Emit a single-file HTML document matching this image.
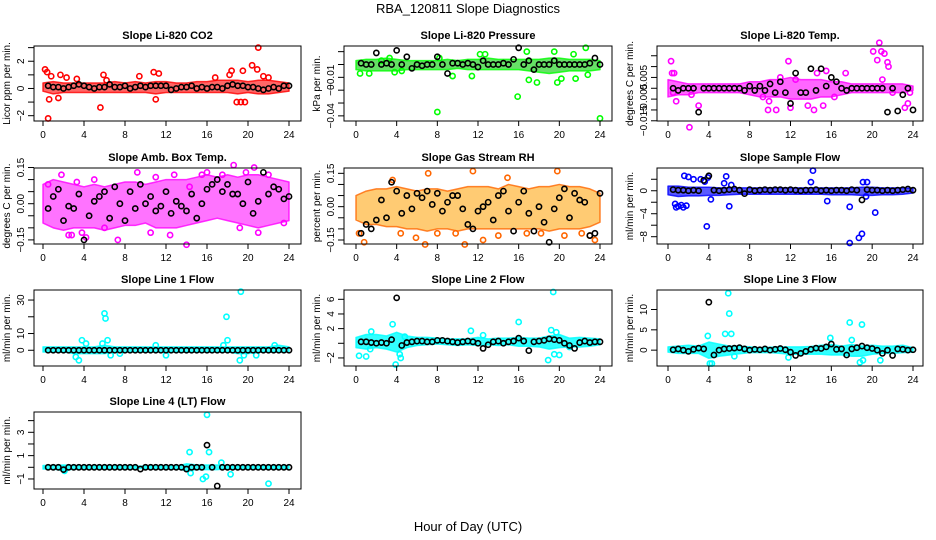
<!DOCTYPE html>
<html><head><meta charset="utf-8"><style>
html,body{margin:0;padding:0;background:#fff}
svg{display:block;font-family:"Liberation Sans",sans-serif}
</style></head><body>
<svg id="chart" width="936" height="540" viewBox="0 0 936 540">
<text x="468" y="13" text-anchor="middle" font-size="13">RBA_120811  Slope Diagnostics</text>
<text x="468" y="531" text-anchor="middle" font-size="13">Hour of Day (UTC)</text>
</svg>
<script>
const bandHours=[0,1,2,3,4,5,6,7,8,9,10,11,12,13,14,15,16,17,18,19,20,21,22,23,24];
const blackHours=[0.5,1,1.5,2,2.5,3,3.5,4,4.5,5,5.5,6,6.5,7,7.5,8,8.5,9,9.5,10,10.5,11,11.5,12,12.5,13,13.5,14,14.5,15,15.5,16,16.5,17,17.5,18,18.5,19,19.5,20,20.5,21,21.5,22,22.5,23,23.5,24];
const xTicks=[0,4,8,12,16,20,24];

const p1Hi=[0.4,0.5,0.4,0.4,0.4,0.4,0.4,0.5,0.4,0.5,0.4,0.5,0.5,0.4,0.4,0.5,0.5,0.6,0.6,0.6,0.5,0.6,0.6,0.5,0.4];
const p1Lo=[-0.2,-0.4,-0.3,-0.3,-0.3,-0.3,-0.3,-0.3,-0.3,-0.3,-0.3,-0.4,-0.3,-0.3,-0.3,-0.3,-0.3,-0.3,-0.3,-0.4,-0.3,-0.4,-0.4,-0.3,-0.2];
const p1OutX=[0.2,0.4,0.5,0.6,0.8,1.5,1.7,2.3,3.3,5.6,5.9,6.2,9.4,10.8,11.0,11.3,16.8,18.2,18.4,18.9,19.3,19.5,19.7,20.4,20.9,21.0,21.5,22.0];
const p1OutY=[1.4,1.2,-2.2,-0.8,0.9,-0.7,1.0,0.8,0.7,-1.4,1.0,0.6,0.9,1.2,-0.8,1.1,0.8,1.0,1.3,-1.0,-1.0,1.3,-1.0,1.7,1.4,3.0,0.9,0.8];
const p1Black=[0.2,0.1,0.1,0.0,0.1,0.2,0.3,0.2,0.1,0.0,0.1,0.1,0.3,0.1,0.1,0.2,0.0,0.1,0.2,0.1,0.2,0.2,0.2,0.2,-0.1,0.0,0.1,0.1,0.2,0.0,0.1,0.0,0.1,0.1,0.0,0.2,0.3,0.2,0.2,0.1,0.1,0.0,-0.1,0.0,0.1,0.0,0.2,0.2];

const p2Hi=[0.003,0.004,0.004,0.005,0.004,0.003,0.003,0.003,0.003,0.004,0.003,0.004,0.004,0.005,0.004,0.004,0.004,0.004,0.004,0.005,0.005,0.004,0.004,0.004,0.003];
const p2Lo=[-0.004,-0.005,-0.005,-0.005,-0.005,-0.004,-0.004,-0.004,-0.004,-0.004,-0.003,-0.004,-0.004,-0.004,-0.004,-0.004,-0.004,-0.005,-0.006,-0.007,-0.006,-0.005,-0.005,-0.005,-0.004];
const p2OutX=[0.4,1.3,2.5,3.3,3.8,4.5,8.0,8.2,9.5,11.4,12.2,12.7,15.9,16.8,17.0,17.8,19.5,19.8,20.2,21.4,21.6,22.6,22.8,24.0];
const p2OutY=[-0.007,-0.007,0.003,0.005,-0.006,-0.005,-0.037,0.005,-0.009,-0.009,0.008,0.008,-0.025,0.010,-0.012,-0.014,0.010,-0.014,-0.011,0.008,-0.011,0.013,-0.008,-0.042];
const p2Black=[0.001,0,0,0.009,0,0.001,0,0.011,0,0.006,-0.003,0,-0.001,0,0,0.006,0,-0.007,0.001,0.001,0,0.001,0,-0.002,0.003,0,0,0,0.001,0,0.004,0.013,0,0.003,-0.004,0,0,0,0.003,0,0,0,0,0,0,0.001,0.005,0];

const p3Hi=[0.004,0.003,0.002,0.002,0.002,0.002,0.002,0.002,0.003,0.003,0.004,0.004,0.005,0.004,0.004,0.004,0.003,0.003,0.002,0.002,0.002,0.002,0.002,0.002,0.001];
const p3Lo=[-0.004,-0.003,-0.003,-0.002,-0.002,-0.002,-0.002,-0.002,-0.003,-0.004,-0.004,-0.004,-0.005,-0.005,-0.005,-0.004,-0.004,-0.003,-0.002,-0.002,-0.002,-0.002,-0.002,-0.002,-0.001];
const p3OutX=[0.3,0.4,0.6,0.8,0.5,2.1,3.0,2.3,9.3,9.8,10.6,11.8,12.0,11.0,13.7,14.3,14.6,15.5,15.2,16.3,17.4,20.1,20.5,20.7,20.9,21.2,21.5,21.6,21.0,22.0,23.2,23.5,23.7,9.9,12.5];
const p3OutY=[0.0125,0.007,0.007,-0.006,-0.002,-0.018,-0.008,-0.003,-0.004,-0.010,-0.010,0.0125,-0.009,0.005,-0.008,-0.010,0.007,0.008,-0.008,-0.004,0.007,0.017,0.013,0.021,0.017,0.016,0.012,0.010,0.004,-0.002,-0.009,-0.007,-0.002,-0.006,0.004];
const p3Black=[0,-0.001,0,0,0,-0.011,0,0,0,0,0,0,0,0,-0.001,0.001,-0.001,0.001,-0.001,0.002,-0.002,0.003,-0.002,-0.007,0.007,-0.002,-0.002,0.009,-0.001,0.009,0.001,0.005,0.003,0,-0.001,0,0,0,0,0,0,0,-0.011,0,-0.0105,-0.003,0,-0.010];

const p4Hi=[0.08,0.10,0.09,0.08,0.07,0.08,0.07,0.08,0.09,0.09,0.08,0.09,0.10,0.10,0.10,0.11,0.12,0.11,0.12,0.11,0.12,0.12,0.11,0.10,0.09];
const p4Lo=[-0.08,-0.10,-0.11,-0.10,-0.10,-0.10,-0.11,-0.10,-0.09,-0.09,-0.08,-0.10,-0.10,-0.10,-0.09,-0.08,-0.07,-0.06,-0.07,-0.08,-0.09,-0.10,-0.09,-0.08,-0.07];
const p4OutX=[0.5,1.8,2.5,2.8,3.8,4.2,5.0,6.0,7.3,9.2,10.5,11.0,12.4,14.3,14.0,16.0,17.5,18.6,19.8,19.2,20.6,22.0,23.5,21.0,12.8,15.5,3.3];
const p4OutY=[0.08,0.12,-0.13,-0.13,-0.12,-0.14,0.10,-0.10,-0.15,0.13,-0.12,0.11,-0.13,0.07,-0.17,0.13,0.12,0.16,0.13,-0.10,0.15,0.12,-0.08,-0.12,0.12,0.12,0.09];
const p4Black=[-0.02,0.03,0.06,-0.07,-0.01,-0.02,0.04,-0.15,-0.05,0.01,0.03,0.05,-0.06,0.07,0.00,-0.07,0.05,-0.02,0.08,0.00,0.03,-0.03,-0.01,0.05,-0.04,0.01,-0.01,-0.03,0.04,-0.06,0.00,0.06,0.08,0.10,0.05,0.08,0.04,0.04,0.00,0.09,-0.04,0.01,0.13,0.04,0.07,0.06,0.02,0.03];

const p5Hi=[0.05,0.07,0.08,0.08,0.09,0.08,0.07,0.08,0.08,0.07,0.08,0.09,0.09,0.09,0.08,0.10,0.09,0.08,0.09,0.09,0.10,0.09,0.09,0.08,0.06];
const p5Lo=[-0.06,-0.08,-0.08,-0.09,-0.09,-0.10,-0.10,-0.11,-0.10,-0.10,-0.11,-0.10,-0.10,-0.10,-0.10,-0.10,-0.10,-0.10,-0.10,-0.11,-0.10,-0.10,-0.10,-0.09,-0.07];
const p5OutX=[0.3,0.8,3.6,6.8,7.1,8.0,11.5,10.7,12.5,14.0,14.9,19.8,20.5,23.0,23.5,5.9,4.4,18.2,22.2,9.8,16.8];
const p5OutY=[-0.12,-0.16,0.12,-0.17,0.15,-0.12,0.16,-0.17,-0.15,-0.13,0.13,0.16,-0.13,-0.13,-0.15,-0.14,-0.12,-0.12,-0.12,-0.12,-0.12];
const p5Black=[-0.12,-0.08,-0.10,-0.06,0.03,-0.05,0.11,0.07,-0.03,0.05,-0.01,0.06,0.04,0.07,0.01,0.06,-0.02,0.02,0.05,0.05,-0.01,-0.08,-0.10,-0.02,0.00,0.02,-0.06,0.05,0.07,-0.02,-0.11,0.02,0.07,-0.03,-0.11,0.00,-0.07,-0.16,-0.01,0.04,0.08,-0.05,0.06,0.03,0.02,-0.13,-0.12,0.06];

const p6Hi=[0.8,0.8,0.6,0.6,0.6,0.5,0.5,0.5,0.5,0.5,0.5,0.5,0.5,0.5,0.5,0.5,0.5,0.5,0.5,0.6,0.6,0.5,0.5,0.5,0.4];
const p6Lo=[-0.7,-1.0,-0.9,-0.9,-0.8,-0.8,-0.7,-0.6,-0.6,-0.6,-0.6,-0.6,-0.6,-0.6,-0.6,-0.6,-0.7,-0.7,-0.7,-0.8,-0.8,-0.7,-0.7,-0.6,-0.4];
const p6OutX=[0.7,0.8,1.0,1.5,1.3,1.8,1.6,2.0,2.5,3.2,3.6,3.8,3.9,4.2,5.5,5.7,6.0,6.2,14.2,14.0,15.6,17.8,17.8,18.7,19.0,19.1,19.4,20.3,19.5];
const p6OutY=[-2.3,-2.9,-2.7,-2.9,-2.5,-2.6,2.6,2.4,2.0,2.0,1.6,-6.2,2.3,-1.5,1.3,2.5,-2.7,1.0,3.5,1.5,-1.8,-2.8,-9.1,-8.2,-7.5,1.5,-1.0,-3.8,1.5];
const p6Black=[0.2,0.1,0.1,0.0,0.1,0.0,1.8,2.6,0.1,0.0,0.1,0.2,0.3,0.1,-0.5,0.2,0.0,0.1,0.2,0.1,0.2,0.2,0.1,0.2,0.1,0.0,0.1,0.1,0.2,0.0,0.1,0.0,0.1,0.1,0.0,0.2,0.1,-1.6,0.2,0.1,0.1,0.0,0.1,0.0,0.1,0.2,0.3,0.1];

const p7Hi=[2,2,2,2,2,2,3,2,2,2,2,2,2,2,2,2,2,2,2,2,2,2,2,3,2];
const p7Lo=[-1,-1,-1,-2,-2,-2,-2,-1,-1,-1,-1,-1,-1,-1,-1,-1,-1,-1,-1,-2,-2,-1,-1,-1,-1];
const p7OutX=[3.2,3.5,3.8,4.2,5.8,6.0,6.1,6.3,6.6,7.5,11.0,12.0,17.6,17.9,18.0,19.2,19.3,19.6,20.8,22.6];
const p7OutY=[-4,-6,6,4,4,22,19,6,-3,-2,3,-3,3,20,6,-6,35,-3,-3,3];
const p7Black=[0,0,0,0,0,0,0,0,0,0,0,0,0,0,0,0,0,0,0,0,0,0,0,0,0,0,0,0,0,0,0,0,0,0,0,0,0,0,0,0,0,0,0,0,0,0,0,0];

const p8Hi=[0.8,1.2,1.2,1.0,1.5,1.0,0.8,0.8,0.7,0.6,0.6,0.6,0.8,0.6,0.7,0.7,0.8,0.7,0.7,1.0,1.2,0.7,0.8,0.7,0.6];
const p8Lo=[-0.6,-0.8,-0.6,-0.8,-1.2,-0.6,-0.3,-0.2,-0.1,-0.2,-0.3,-0.2,-0.3,-0.2,-0.3,-0.2,-0.4,-0.4,-0.5,-0.8,-0.6,-0.5,-0.5,-0.4,-0.2];
const p8OutX=[0.3,1.0,1.5,1.4,3.6,3.9,4.3,4.4,4.8,11.3,12.5,16.0,18.9,19.2,19.4,19.5,19.7,20.0,21.0];
const p8OutY=[-1.7,-1.8,1.6,-0.8,2.6,-2.9,-1.5,-2.0,0.9,1.7,1.1,2.9,-2.3,1.8,7.0,-1.5,1.5,-1.6,-0.5];
const p8Black=[0.2,0.2,0.1,0.0,0.1,0.0,0.5,6.2,-0.3,0.1,0.2,0.3,0.3,0.2,0.2,0.4,0.4,0.3,0.2,0.1,0.2,0.3,0.2,0.0,-0.7,-0.2,0.2,0.3,0.0,0.2,0.3,0.7,0.3,-1.0,0.2,0.3,0.4,0.6,0.5,0.4,0.0,-0.3,-0.7,0.1,0.3,0.1,0.2,0.2];

const p9Hi=[0.8,1.0,1.2,1.0,2.0,1.5,1.0,1.0,0.8,0.6,0.7,0.8,0.8,0.8,0.9,1.2,1.4,1.0,1.4,1.0,1.2,1.0,1.0,1.2,0.6];
const p9Lo=[-0.5,-0.8,-0.8,-0.8,-2.0,-1.5,-1.2,-0.9,-0.6,-0.6,-0.6,-0.8,-1.0,-1.0,-1.0,-1.0,-1.2,-1.2,-1.5,-1.5,-1.0,-0.8,-0.8,-0.6,-0.5];
const p9OutX=[3.9,4.1,4.3,5.6,5.9,6.0,6.2,6.5,11.8,15.9,17.8,18.0,18.8,19.0,19.1,20.8];
const p9OutY=[3.5,-3.3,-3.3,4.0,14,9.0,4.0,-1.5,-1.8,3.0,6.8,2.5,-3.0,6.3,-2.5,-2.5];
const p9Black=[0.1,0.3,0.0,-0.3,0.2,0.5,0.3,11.8,-1.2,0.0,0.3,0.4,0.5,0.6,0.3,0.0,0.2,0.1,0.3,0.0,0.2,0.4,0.1,-0.5,-1.3,-0.8,-0.3,0.2,0.5,0.4,0.8,1.5,0.2,0.3,-1.2,0.3,0.6,1.0,0.6,0.4,0.0,-0.8,0.0,-1.3,0.3,0.2,0.0,0.1];

const p10Hi=[0.15,0.15,0.2,0.15,0.1,0.1,0.1,0.1,0.1,0.1,0.1,0.1,0.1,0.1,0.3,0.2,0.2,0.2,0.1,0.1,0.1,0.1,0.1,0.1,0.1];
const p10Lo=[-0.15,-0.15,-0.3,-0.15,-0.1,-0.1,-0.1,-0.1,-0.1,-0.1,-0.1,-0.1,-0.1,-0.1,-0.3,-0.2,-0.2,-0.2,-0.1,-0.1,-0.1,-0.1,-0.1,-0.1,-0.1];
const p10OutX=[2.1,14.3,14.4,15.6,15.9,16.0,16.2,17.4,18.3,22.0];
const p10OutY=[-0.3,1.3,-0.5,-1.0,-0.8,4.5,1.3,0.4,-0.6,-1.4];
const p10Black=[0,0,0,-0.2,0,0,0,0,0,0,0,0,0,0,0,0,0,0,-0.15,0,0,0,0,0,0,0,0,-0.15,0,0,0,1.9,0,-1.6,0,0,0,0,0,0,0,0,0,0,0,0,0,0];

const cols=[{l:34,r:301,x0:43,x24:289},{l:344,r:612,x0:356,x24:600},{l:657,r:923,x0:668,x24:913}];
const rows=[{t:46,b:121},{t:168,b:244},{t:290,b:366},{t:412,b:489}];

const panels=[
 {name:"co2",title:"Slope Li-820 CO2",yl:"Licor ppm per min.",col:"#ff0000",band:"#ff0000",op:0.6,c:0,r:0,ymin:-2.39,ymax:3.12,ticks:[-2,-1,0,1,2,3],labels:{"-2":"−2","0":"0","2":"2"},hi:p1Hi,lo:p1Lo,ox:p1OutX,oy:p1OutY,bk:p1Black},
 {name:"pressure",title:"Slope Li-820 Pressure",yl:"kPa per min.",col:"#00ff00",band:"#00cc00",op:0.6,c:1,r:0,ymin:-0.044,ymax:0.0144,ticks:[-0.04,-0.03,-0.02,-0.01,0,0.01],labels:{"-0.04":"−0.04","-0.02":"−0","-0.01":"−0.01"},hi:p2Hi,lo:p2Lo,ox:p2OutX,oy:p2OutY,bk:p2Black},
 {name:"temp",title:"Slope Li-820 Temp.",yl:"degrees C per min.",col:"#ff00ff",band:"#ff00ff",op:0.6,c:2,r:0,ymin:-0.0151,ymax:0.0195,ticks:[-0.015,-0.01,-0.005,0,0.005,0.01,0.015],labels:{"-0.015":"−0.015","-0.005":"−0.005","0.005":"0.005"},hi:p3Hi,lo:p3Lo,ox:p3OutX,oy:p3OutY,bk:p3Black},
 {name:"amb-box-temp",title:"Slope Amb. Box Temp.",yl:"degrees C per min.",col:"#ff00ff",band:"#ff00ff",op:0.55,c:0,r:1,ymin:-0.167,ymax:0.148,ticks:[-0.15,-0.1,-0.05,0,0.05,0.1,0.15],labels:{"-0.15":"−0.15","0":"0.00","0.15":"0.15"},hi:p4Hi,lo:p4Lo,ox:p4OutX,oy:p4OutY,bk:p4Black},
 {name:"gas-stream-rh",title:"Slope Gas Stream RH",yl:"percent per min.",col:"#ff6600",band:"#ffa000",op:0.55,c:1,r:1,ymin:-0.168,ymax:0.174,ticks:[-0.15,-0.1,-0.05,0,0.05,0.1,0.15],labels:{"-0.15":"−0.15","0":"0.00","0.15":"0.15"},hi:p5Hi,lo:p5Lo,ox:p5OutX,oy:p5OutY,bk:p5Black},
 {name:"sample-flow",title:"Slope Sample Flow",yl:"ml/min per min.",col:"#0000ff",band:"#0000ff",op:0.65,c:2,r:1,ymin:-9.27,ymax:3.96,ticks:[-8,-6,-4,-2,0,2],labels:{"-8":"−8","-4":"−4","0":"0"},hi:p6Hi,lo:p6Lo,ox:p6OutX,oy:p6OutY,bk:p6Black},
 {name:"line1-flow",title:"Slope Line 1 Flow",yl:"ml/min per min.",col:"#00ffff",band:"#00ffff",op:0.8,c:0,r:2,ymin:-9.4,ymax:36,ticks:[0,10,20,30],labels:{"0":"0","10":"10","30":"30"},hi:p7Hi,lo:p7Lo,ox:p7OutX,oy:p7OutY,bk:p7Black},
 {name:"line2-flow",title:"Slope Line 2 Flow",yl:"ml/min per min.",col:"#00ffff",band:"#00ffff",op:0.8,c:1,r:2,ymin:-3.1,ymax:7.27,ticks:[-2,0,2,4,6],labels:{"-2":"−2","2":"2","4":"4","6":"6"},hi:p8Hi,lo:p8Lo,ox:p8OutX,oy:p8OutY,bk:p8Black},
 {name:"line3-flow",title:"Slope Line 3 Flow",yl:"ml/min per min.",col:"#00ffff",band:"#00ffff",op:0.8,c:2,r:2,ymin:-3.9,ymax:14.8,ticks:[0,5,10],labels:{"0":"0","5":"5","10":"10"},hi:p9Hi,lo:p9Lo,ox:p9OutX,oy:p9OutY,bk:p9Black},
 {name:"line4-flow",title:"Slope Line 4 (LT) Flow",yl:"ml/min per min.",col:"#00ffff",band:"#00ffff",op:0.8,c:0,r:3,ymin:-1.86,ymax:4.74,ticks:[-1,0,1,2,3,4],labels:{"-1":"−1","1":"1","3":"3"},hi:p10Hi,lo:p10Lo,ox:p10OutX,oy:p10OutY,bk:p10Black}
];

const NS="http://www.w3.org/2000/svg";
const svg=document.getElementById('chart');
function mk(tag,attrs,parent){const e=document.createElementNS(NS,tag);for(const k in attrs)e.setAttribute(k,attrs[k]);parent.appendChild(e);return e;}

panels.forEach(p=>{
 const C=cols[p.c],R=rows[p.r];
 const sx=h=>C.x0+h*(C.x24-C.x0)/24;
 const sy=v=>R.t+(p.ymax-v)/(p.ymax-p.ymin)*(R.b-R.t);
 const g=mk('g',{},svg);
 
 
 const t=mk('text',{x:(C.l+C.r)/2,y:R.t-7,'text-anchor':'middle','font-size':'11','font-weight':'bold'},g);
 t.textContent=p.title;
 
 
 let pts=p.hi.map((v,i)=>sx(bandHours[i])+','+sy(v));
 for(let i=p.lo.length-1;i>=0;i--)pts.push(sx(bandHours[i])+','+sy(p.lo[i]));
 const band=mk('polygon',{points:pts.join(' '),fill:p.band,'fill-opacity':p.op,stroke:p.col,'stroke-width':'1.5','stroke-opacity':'0.8','stroke-linejoin':'round'},g);
 
 
 p.ox.forEach((x,i)=>{
  const c=mk('circle',{cx:sx(x),cy:sy(p.oy[i]),r:2.6,fill:'none',stroke:p.col,'stroke-width':1.6},g);
  
  
 });
 p.bk.forEach((v,i)=>{
  const c=mk('circle',{cx:sx(blackHours[i]),cy:sy(v),r:2.6,fill:'none',stroke:'#000','stroke-width':1.6},g);
  
  
 });
 const box=mk('rect',{x:C.l,y:R.t,width:C.r-C.l,height:R.b-R.t,fill:'none',stroke:'#000','stroke-width':1},g);
 
 
 xTicks.forEach(h=>{
  mk('line',{x1:sx(h),x2:sx(h),y1:R.b,y2:R.b+5,stroke:'#000'},g);
  const tl=mk('text',{x:sx(h),y:R.b+17,'text-anchor':'middle','font-size':'10'},g);
  tl.textContent=h;
  
  
 });
 p.ticks.forEach(v=>{
  mk('line',{x1:C.l-6,x2:C.l,y1:sy(v),y2:sy(v),stroke:'#000'},g);
  const lab=p.labels[String(v)];
  if(lab!==undefined){
   const tl=mk('text',{x:C.l-10,y:sy(v),'text-anchor':'middle','font-size':'10',transform:'rotate(-90 '+(C.l-10)+' '+sy(v)+')'},g);
   tl.textContent=lab;
   
   
  }
 });
 const ym=(R.t+R.b)/2;
 const yt=mk('text',{x:C.l-24,y:ym,'text-anchor':'middle','font-size':'10',transform:'rotate(-90 '+(C.l-24)+' '+ym+')'},g);
 yt.textContent=p.yl;
 
 
});
</script>
</body></html>
